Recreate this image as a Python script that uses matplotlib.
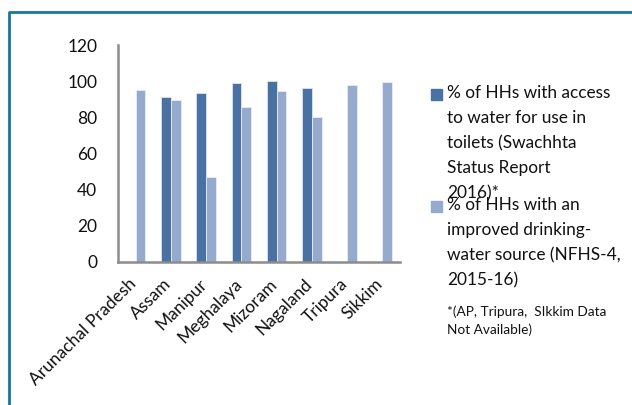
import numpy as np
import matplotlib
matplotlib.use('Agg')
import matplotlib.pyplot as plt
from matplotlib.patches import Rectangle
from matplotlib.lines import Line2D
from matplotlib.transforms import ScaledTranslation

states = ['Arunachal Pradesh', 'Assam', 'Manipur', 'Meghalaya', 'Mizoram',
          'Nagaland', 'Tripura', 'Sikkim']
toilet_water = [np.nan, 91.5, 93.5, 99, 100, 96, np.nan, np.nan]
drinking_water = [95, 89.5, 47, 85.5, 94.5, 80, 98, 99.5]
legend_labels = [
    '% of HHs with access\nto water for use in\ntoilets (Swachhta\nStatus Report\n2016)*',
    '% of HHs with an\nimproved drinking-\nwater source (NFHS-4,\n2015-16)',
]
note = '*(AP, Tripura,  SIkkim Data\nNot Available)'
yticks = [0, 20, 40, 60, 80, 100, 120]

dark = '#4a71a3'
light = '#95aacd'
frame_col = '#17799a'

plt.rcParams['font.family'] = ['Lato', 'DejaVu Sans']

fig = plt.figure(figsize=(6.32, 4.05), dpi=100)
W, H = 632, 405
ax = fig.add_axes([118 / W, 1 - 262 / H, 282 / W, 217 / H])

x = np.arange(len(states))
bw = 0.28
ax.bar(x - bw / 2, toilet_water, bw, color=dark, edgecolor='#dbe3ee', linewidth=0.6)
ax.bar(x + bw / 2, drinking_water, bw, color=light, edgecolor='#e8edf5', linewidth=0.6)

ax.set_xlim(-0.5, len(states) - 0.5)
ax.set_ylim(0, 120)
ax.set_yticks(yticks)
ax.tick_params(axis='y', length=0, pad=15, labelsize=12.5, colors='#111111')
ax.tick_params(axis='x', length=0, pad=9, labelsize=12.5, colors='#111111')
ax.set_xticks(x)
ax.set_xticklabels(states, rotation=45, ha='right', va='center', rotation_mode='anchor')
# nudge the slanted labels a bit left/down
shift = ScaledTranslation(-1.5 / 72, -5 / 72, fig.dpi_scale_trans)
for lbl in ax.get_xticklabels():
    lbl.set_transform(lbl.get_transform() + shift)
for s in ['top', 'right']:
    ax.spines[s].set_visible(False)
for s in ['left', 'bottom']:
    ax.spines[s].set_color('#8c8c8c')
    ax.spines[s].set_linewidth(1.8)
ax.patch.set_alpha(0)

# outer frame (top and left edges)
fig.add_artist(Line2D([9 / W, 9 / W, 1], [0, 1 - 12 / H, 1 - 12 / H],
                      color=frame_col, lw=2, transform=fig.transFigure))

# legend drawn by hand
for col, lab, ytop in zip([dark, light], legend_labels, [85, 197]):
    fig.add_artist(Rectangle((431 / W, 1 - (ytop + 15) / H), 11 / W, 11 / H,
                             color=col, transform=fig.transFigure))
    fig.text(447 / W, 1 - ytop / H, lab, fontsize=12.4, va='top', ha='left',
             linespacing=1.69, color='#111111')
fig.text(447 / W, 1 - 305 / H, note, fontsize=9.8, va='top', ha='left',
         linespacing=1.6, color='#111111')

fig.savefig('out.png', dpi=100, facecolor='white')
